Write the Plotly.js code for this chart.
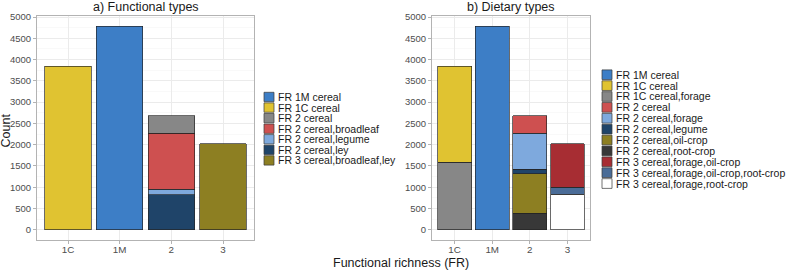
<!DOCTYPE html>
<html>
<head>
<meta charset="utf-8">
<script src="https://cdn.plot.ly/plotly-3.0.1.min.js"></script>
<style>html,body{margin:0;padding:0;background:#fff}#chart{width:786px;height:271px}</style>
</head>
<body>
<div id="chart"></div>
<script>
// ---- data ----
const categories = ['1C', '1M', '2', '3'];

// a) Functional types (legend order)
const funcNames = ['FR 1M cereal', 'FR 1C cereal', 'FR 2 cereal', 'FR 2 cereal,broadleaf',
  'FR 2 cereal,legume', 'FR 2 cereal,ley', 'FR 3 cereal,broadleaf,ley'];
const funcX = ['1M', '1C', '2', '2', '2', '2', '3'];
const funcCount = [4785, 3840, 402, 1318, 132, 823, 2025];

// b) Dietary types (legend order)
const dietNames = ['FR 1M cereal', 'FR 1C cereal', 'FR 1C cereal,forage', 'FR 2 cereal',
  'FR 2 cereal,forage', 'FR 2 cereal,legume', 'FR 2 cereal,oil-crop', 'FR 2 cereal,root-crop',
  'FR 3 cereal,forage,oil-crop', 'FR 3 cereal,forage,oil-crop,root-crop', 'FR 3 cereal,forage,root-crop'];
const dietX = ['1M', '1C', '1C', '2', '2', '2', '2', '2', '3', '3', '3'];
const dietCount = [4785, 2255, 1585, 400, 850, 113, 917, 395, 1025, 168, 832];

// ---- styles ----
const funcColors = ['#3d7ec6', '#e0c331', '#878787', '#ce5050', '#7ea9dd', '#1f4469', '#8d7f22'];
const dietColors = ['#3d7ec6', '#e0c331', '#878787', '#ce5050', '#7ea9dd', '#1f4469', '#8d7f22',
  '#383838', '#a72d33', '#4a6c97', '#ffffff'];

const W = 786, H = 271;
const px = v => v / W;
const py = v => 1 - v / H;
const FONT = 'Liberation Sans, Arial, sans-serif';

function makeTraces(names, xs, vals, colors, xa, ya) {
  const t = [];
  // ggplot stacks in reverse legend order (first legend item on top)
  for (let i = names.length - 1; i >= 0; i--) {
    t.push({
      type: 'bar', name: names[i], x: [xs[i]], y: [vals[i]],
      xaxis: xa, yaxis: ya, width: 0.9, showlegend: false,
      marker: { color: colors[i], line: { color: 'rgba(35,35,35,0.85)', width: 0.8 } },
      hoverinfo: 'name+y'
    });
  }
  return t;
}

const traces = makeTraces(funcNames, funcX, funcCount, funcColors, 'x', 'y')
  .concat(makeTraces(dietNames, dietX, dietCount, dietColors, 'x2', 'y2'));

const yRange = [-239, 5024];
function xAxis(domain) {
  return {
    domain: domain, type: 'category', categoryorder: 'array', categoryarray: categories,
    range: [-0.6, 3.6], showgrid: true, gridcolor: '#ebebeb', gridwidth: 1,
    showline: true, mirror: true, linecolor: '#b3b3b3', linewidth: 1,
    ticks: 'outside', ticklen: 3, tickcolor: '#b3b3b3', tickwidth: 1,
    ticklabelstandoff: -3,
    tickfont: { family: FONT, size: 9.8, color: '#4d4d4d' }, zeroline: false, fixedrange: true
  };
}
function yAxis(anchor) {
  return {
    domain: [1 - 240 / H, 1 - 16 / H], anchor: anchor, range: yRange,
    tickvals: [0, 500, 1000, 1500, 2000, 2500, 3000, 3500, 4000, 4500, 5000],
    showgrid: true, gridcolor: '#ebebeb', gridwidth: 1,
    minor: { tickvals: [250, 750, 1250, 1750, 2250, 2750, 3250, 3750, 4250, 4750], showgrid: true, gridcolor: '#f5f5f5', gridwidth: 0.6, ticks: '' },
    showline: true, mirror: true, linecolor: '#b3b3b3', linewidth: 1,
    ticks: 'outside', ticklen: 3, tickcolor: '#b3b3b3', tickwidth: 1,
    tickfont: { family: FONT, size: 9.5, color: '#4d4d4d' }, zeroline: false, fixedrange: true
  };
}

const shapes = [];
const annotations = [];

function legend(names, colors, x0, top, step) {
  names.forEach((n, i) => {
    const yt = top + i * step;
    shapes.push({
      type: 'rect', xref: 'paper', yref: 'paper',
      x0: px(x0), x1: px(x0 + 10), y0: py(yt + 0.6), y1: py(yt + step - 0.6),
      fillcolor: colors[i], line: { color: 'rgba(60,60,60,0.9)', width: 0.8 }, layer: 'above'
    });
    annotations.push({
      xref: 'paper', yref: 'paper', x: px(x0 + 13), y: py(yt + step / 2),
      xanchor: 'left', yanchor: 'middle', showarrow: false, text: n, borderpad: 0,
      font: { family: FONT, size: 10.5, color: '#1a1a1a' }
    });
  });
}
legend(funcNames, funcColors, 264, 91.7, 10.57);
legend(dietNames, dietColors, 602, 69.3, 10.88);

annotations.push(
  { xref: 'paper', yref: 'paper', x: px(145.5), y: py(7), xanchor: 'center', yanchor: 'middle', showarrow: false,
    text: 'a) Functional types', font: { family: FONT, size: 12.5, color: '#1a1a1a' } },
  { xref: 'paper', yref: 'paper', x: px(511), y: py(7), xanchor: 'center', yanchor: 'middle', showarrow: false,
    text: 'b) Dietary types', font: { family: FONT, size: 12.5, color: '#1a1a1a' } },
  { xref: 'paper', yref: 'paper', x: px(401), y: py(263), xanchor: 'center', yanchor: 'middle', showarrow: false,
    text: 'Functional richness (FR)', font: { family: FONT, size: 12.5, color: '#1a1a1a' } },
  { xref: 'paper', yref: 'paper', x: px(5.5), y: py(131), xanchor: 'center', yanchor: 'middle', showarrow: false,
    textangle: -90, text: 'Count', font: { family: FONT, size: 12.5, color: '#1a1a1a' } }
);

const layout = {
  width: W, height: H, margin: { l: 0, r: 0, t: 0, b: 0 },
  paper_bgcolor: '#ffffff', plot_bgcolor: '#ffffff',
  barmode: 'stack', showlegend: false,
  xaxis: Object.assign(xAxis([37 / W, 254 / W]), { anchor: 'y' }),
  yaxis: yAxis('x'),
  xaxis2: Object.assign(xAxis([432 / W, 590 / W]), { anchor: 'y2' }),
  yaxis2: yAxis('x2'),
  shapes: shapes, annotations: annotations,
  font: { family: FONT }
};

Plotly.newPlot('chart', traces, layout, { displayModeBar: false, staticPlot: true });
</script>
</body>
</html>
